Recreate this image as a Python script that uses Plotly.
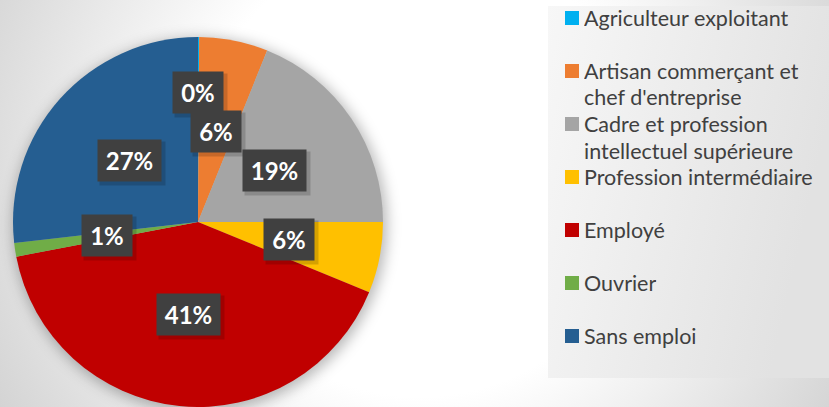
import base64
import math
import plotly.graph_objects as go

# ---------------- data ----------------
categories = [
    "Agriculteur exploitant",
    "Artisan commerçant et chef d'entreprise",
    "Cadre et profession intellectuel supérieure",
    "Profession intermédiaire",
    "Employé",
    "Ouvrier",
    "Sans emploi",
]
legend_labels = [
    "Agriculteur exploitant",
    "Artisan commerçant et<br>chef d'entreprise",
    "Cadre et profession<br>intellectuel supérieure",
    "Profession intermédiaire",
    "Employé",
    "Ouvrier",
    "Sans emploi",
]
values = [0.1, 6.0, 18.9, 6.2, 40.8, 1.2, 26.8]
colors = ["#00B0F0", "#ED7D31", "#A5A5A5", "#FFC000", "#C00000", "#70AD47", "#255E91"]

# ---------------- layout constants ----------------
W, H = 829, 407
CX, CY, R = 198, 222, 185
label_radius = [0.70, 0.5, 0.5, 0.5, 0.5, 0.5, 0.5]
FONT = "Lato"

bg_svg = f"""<svg xmlns='http://www.w3.org/2000/svg' width='{W}' height='{H}'>
<defs>
<radialGradient id='g' gradientUnits='userSpaceOnUse' cx='420' cy='170' r='540'>
<stop offset='0' stop-color='#ffffff'/><stop offset='0.42' stop-color='#ffffff'/>
<stop offset='1' stop-color='#cacaca'/></radialGradient>
<linearGradient id='l' x1='0' y1='0' x2='1' y2='0.3'>
<stop offset='0' stop-color='#f7f7f7'/><stop offset='1' stop-color='#e2e2e2'/></linearGradient>
<filter id='b' x='-20%' y='-20%' width='140%' height='140%'><feGaussianBlur stdDeviation='7'/></filter>
</defs>
<rect width='{W}' height='{H}' fill='url(#g)'/>
<rect x='548' y='6' width='{W-548}' height='372' fill='url(#l)'/>
<circle cx='{CX+2}' cy='{CY+3}' r='{R+2}' fill='#000' fill-opacity='0.28' filter='url(#b)'/>
</svg>"""
bg_uri = "data:image/svg+xml;base64," + base64.b64encode(bg_svg.encode()).decode()

fig = go.Figure()
fig.add_trace(go.Pie(
    labels=categories,
    values=values,
    sort=False,
    direction="clockwise",
    rotation=0,
    marker=dict(colors=colors, line=dict(width=0)),
    textinfo="none",
    hoverinfo="label+percent",
    showlegend=False,
    domain=dict(x=[(CX - R) / W, (CX + R) / W], y=[(H - CY - R) / H, (H - CY + R) / H]),
))

annotations = []
shapes = []
total = sum(values)
cum = 0.0
for i, v in enumerate(values):
    mid = (cum + v / 2) / total * 2 * math.pi
    cum += v
    r = R * label_radius[i]
    px = CX + r * math.sin(mid)
    py = CY - r * math.cos(mid)
    txt = f"{round(v / total * 100)}%"
    bw = 50 if len(txt) == 2 else 63
    # soft shadow
    annotations.append(dict(
        x=(px + 3) / W, y=1 - (py + 3) / H, xref="paper", yref="paper",
        text=" ", showarrow=False, bgcolor="rgba(0,0,0,0.16)", borderpad=0,
        width=bw + 2, height=43, xanchor="center", yanchor="middle",
    ))
    annotations.append(dict(
        x=px / W, y=1 - py / H, xref="paper", yref="paper",
        text=txt, showarrow=False,
        font=dict(family=FONT, size=24, color="white", weight="bold"),
        bgcolor="#404040", borderpad=0,
        width=bw, height=41,
        xanchor="center", yanchor="middle",
    ))

# legend entries
for i, lab in enumerate(legend_labels):
    c = 18 + 53 * i
    shapes.append(dict(
        type="rect", xref="paper", yref="paper",
        x0=565 / W, x1=579 / W, y0=1 - (c + 7) / H, y1=1 - (c - 7) / H,
        fillcolor=colors[i], line=dict(width=0),
    ))
    for j, line in enumerate(lab.split("<br>")):
        annotations.append(dict(
            x=583 / W, y=1 - (c + 26.5 * j) / H, xref="paper", yref="paper",
            text=line, showarrow=False, xanchor="left", yanchor="middle",
            height=24, borderpad=0,
            font=dict(family=FONT, size=21.5, color="#404040"),
        ))

fig.update_layout(
    width=W, height=H,
    margin=dict(l=0, r=0, t=0, b=0),
    paper_bgcolor="#eeeeee",
    annotations=annotations,
    shapes=shapes,
    images=[dict(source=bg_uri, xref="paper", yref="paper", x=0, y=1,
                 sizex=1, sizey=1, sizing="stretch", layer="below",
                 xanchor="left", yanchor="top")],
)

fig.write_html(
    "out.html",
    config={"displayModeBar": False},
    post_script="document.body.style.margin='0';document.body.style.overflow='hidden';",
)
